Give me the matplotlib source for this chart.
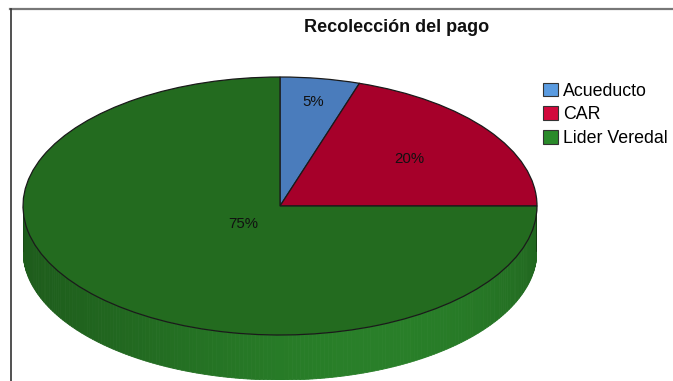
import numpy as np
import matplotlib.pyplot as plt
from matplotlib.patches import Patch, Polygon

# Payment collection shares
categories = ["Acueducto", "CAR", "Lider Veredal"]
values = [5, 20, 75]

slice_colors = ["#4a7cbc", "#a6002a", "#236b1f"]
legend_colors = ["#5a9be0", "#d2093c", "#2a8a2a"]
label_radius = [0.82, 0.62, 0.20]

W, H = 673, 381
fig = plt.figure(figsize=(W / 100, H / 100), dpi=100)
fig.patch.set_facecolor("white")

# Ellipse geometry in pixels
cx, cy, rx, ry, depth = 280.0, 206.0, 257.0, 129.0, 45.0
d = depth / ry
ax = fig.add_axes([(cx - rx) / W, (H - (cy + ry + depth)) / H,
                   2 * rx / W, (2 * ry + depth) / H])

# Slice boundary angles (clockwise from 12 o'clock)
start = 90.0
total = sum(values)
bounds = [start]
for v in values:
    bounds.append(bounds[-1] - 360.0 * v / total)

# Side wall of the disc (front half), shaded by angle
n = 200
angs = np.linspace(np.pi, 2 * np.pi, n + 1)
dark = np.array([0.115, 0.355, 0.105])
light = np.array([0.160, 0.500, 0.160])
for a0, a1 in zip(angs[:-1], angs[1:]):
    am = 0.5 * (a0 + a1)
    u = (am - np.pi) / np.pi          # 0 at left, 1 at right
    t = np.exp(-((u - 0.62) / 0.33) ** 2)
    col = dark + (light - dark) * t
    pts = [(np.cos(a0), np.sin(a0)), (np.cos(a1), np.sin(a1)),
           (np.cos(a1), np.sin(a1) - d), (np.cos(a0), np.sin(a0) - d)]
    ax.add_patch(Polygon(pts, closed=True, facecolor=col, edgecolor=col,
                         linewidth=0.6, zorder=1))
ax.plot([1, 1], [0, -d], color="#123a10", lw=1.2, zorder=2)
ax.plot([-1, -1], [0, -d], color="#1a4a18", lw=0.8, zorder=2)

# Top face
wedges, texts, autotexts = ax.pie(
    values, colors=slice_colors, startangle=90, counterclock=False,
    autopct="%1.0f%%", radius=1.0, center=(0, 0), frame=True,
    wedgeprops=dict(edgecolor="#1a1a1a", linewidth=0.9),
    textprops=dict(fontsize=10.8, color="#111111", family="Liberation Sans"))
ax.set_aspect("auto")
ax.set_xlim(-1, 1)
ax.set_ylim(-1 - d, 1)
ax.axis("off")
for w in wedges:
    w.set_zorder(3)
for txt, r, b0, b1 in zip(autotexts, label_radius, bounds[:-1], bounds[1:]):
    mid = np.deg2rad(0.5 * (b0 + b1))
    txt.set_position((r * np.cos(mid), r * np.sin(mid)))
    txt.set_zorder(5)

# Title
fig.text(397 / W, 1 - 28 / H, "Recolección del pago", ha="center", va="center",
         fontsize=13, fontweight="bold", family="Liberation Sans", color="#111111")

# Legend
handles = [Patch(facecolor=c, edgecolor="#333333", linewidth=0.8) for c in legend_colors]
fig.legend(handles, categories, loc="upper left",
           bbox_to_anchor=(543 / W, 1 - 82.5 / H), frameon=False,
           prop=dict(family="Liberation Sans", size=12.8),
           handlelength=0.82, handleheight=0.82, handletextpad=0.3,
           labelspacing=0.37, borderpad=0.0, borderaxespad=0.0)

# Frame lines at top and left
fig.add_artist(plt.Line2D([10 / W, 1], [1 - 9 / H, 1 - 9 / H],
                          transform=fig.transFigure, color="#777777", lw=1.6))
fig.add_artist(plt.Line2D([10.5 / W, 10.5 / W], [0, 1 - 9 / H],
                          transform=fig.transFigure, color="#333333", lw=1.2))

fig.savefig("out.png", dpi=100, facecolor="white")
